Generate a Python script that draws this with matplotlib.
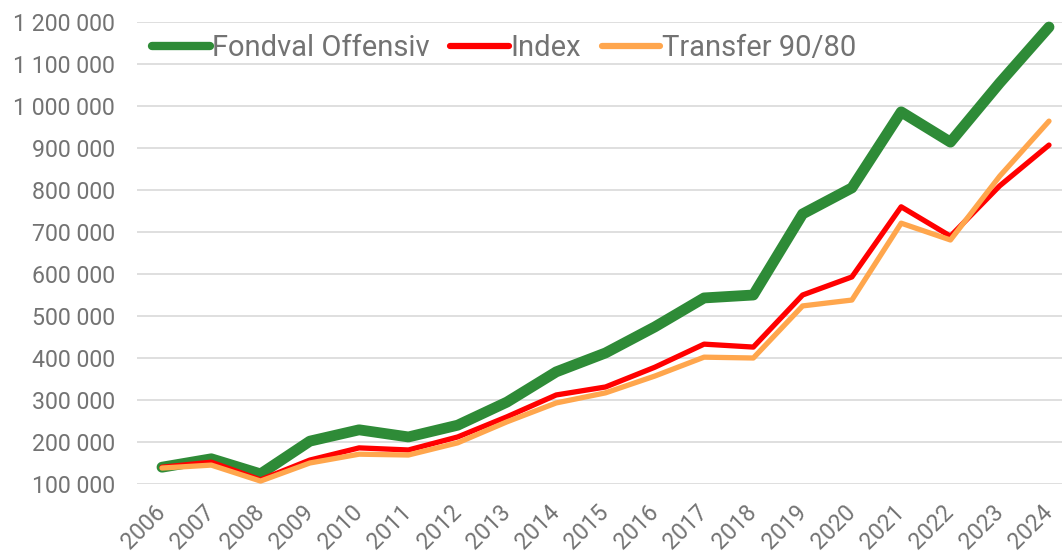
import numpy as np
import matplotlib.pyplot as plt
from matplotlib.ticker import FuncFormatter

years = list(range(2006, 2025))
fondval = [140000, 160000, 124000, 202000, 229000, 212000, 240000, 295000, 367000, 412000,
           474000, 543000, 550000, 743000, 805000, 986000, 914000, 1055000, 1188000]
index = [140000, 152000, 110000, 157000, 186000, 181000, 212000, 260000, 312000, 331000,
         378000, 433000, 426000, 550000, 593000, 760000, 690000, 810000, 907000]
transfer = [138000, 145000, 107000, 150000, 171000, 169000, 198000, 248000, 293000, 317000,
            357000, 402000, 400000, 524000, 538000, 721000, 681000, 833000, 964000]

plt.rcParams['font.family'] = ['Roboto', 'DejaVu Sans']
txt = '#737373'

fig = plt.figure(figsize=(10.62, 5.53), dpi=100)
ax = fig.add_axes([137/1062, 69/553, 925/1062, 462/553])

ax.plot(years, fondval, color='#2E8B37', lw=7.8, label='Fondval Offensiv',
        solid_capstyle='round', solid_joinstyle='round', clip_on=False, zorder=3)
ax.plot(years, index, color='#FF0000', lw=3.8, label='Index',
        solid_capstyle='round', solid_joinstyle='round', clip_on=False, zorder=4)
ax.plot(years, transfer, color='#FFA64D', lw=3.8, label='Transfer 90/80',
        solid_capstyle='round', solid_joinstyle='round', clip_on=False, zorder=5)

ax.set_ylim(100000, 1200000)
ax.set_xlim(2006 - 25/49.28, 2024 + 13/49.28)
ax.set_yticks(np.arange(100000, 1200001, 100000))
ax.yaxis.set_major_formatter(FuncFormatter(lambda v, p: f'{int(v):,}'.replace(',', ' ')))
ax.set_xticks(years)
ax.set_xticklabels([str(y) for y in years], rotation=45, ha='right', va='center',
                   rotation_mode='anchor')
ax.tick_params(axis='both', length=0, labelsize=16.7, colors=txt)
ax.tick_params(axis='y', pad=16)
ax.tick_params(axis='x', pad=18)
ax.grid(axis='y', color='#D9D9D9', lw=1.2)
ax.set_axisbelow(True)
for s in ax.spines.values():
    s.set_visible(False)

leg = ax.legend(loc='center left', bbox_to_anchor=(152/1062, 1 - 48/553),
                bbox_transform=fig.transFigure, ncol=3, frameon=False,
                fontsize=21, handlelength=2.0, handletextpad=0.07,
                columnspacing=0.7, borderpad=0, borderaxespad=0)
for t in leg.get_texts():
    t.set_color(txt)
for h in leg.get_lines():
    h.set_solid_capstyle('round')
leg.get_lines()[0].set_linewidth(6)
leg.get_lines()[1].set_linewidth(4.5)
leg.get_lines()[2].set_linewidth(4.5)

fig.savefig('out.png', dpi=100)
